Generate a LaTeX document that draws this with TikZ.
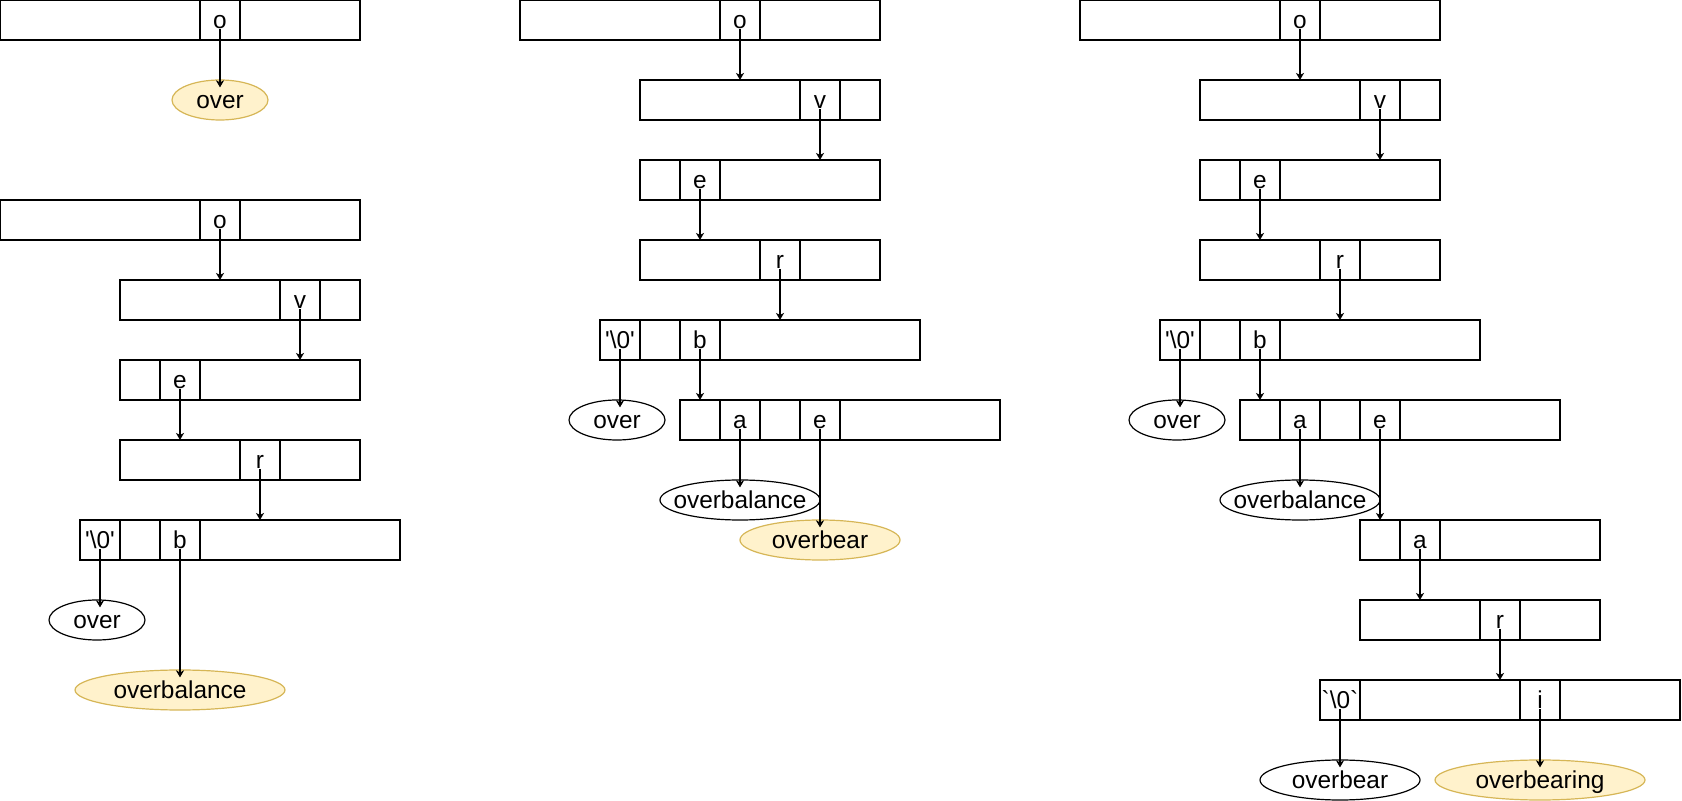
\documentclass[tikz,border=0pt]{standalone}
\usepackage{fontspec}
\setmainfont{Liberation Sans}
\usepackage{tikz}
\usetikzlibrary{positioning,arrows.meta,shapes.geometric}

\definecolor{hitfill}{HTML}{FFF2CC}
\definecolor{hitline}{HTML}{D6B656}

\newcommand{\nul}{\textquotesingle\textbackslash0\textquotesingle}
\newcommand{\nulb}{\textasciigrave\textbackslash0\textasciigrave}

% one trie node: name, left end of the row, list of width/letter
\newcommand{\trierow}[3]{%
  \coordinate (#1-0) at (#2);
  \foreach \w/\lbl [count=\i, remember=\i as \j (initially 0)] in {#3}
    \node[cell, minimum width=\w*\cw, right=0pt of #1-\j] (#1-\i) {\lbl};
}

\begin{document}
\begin{tikzpicture}[x=0.5pt, y=-0.5pt, font=\fontsize{12.2}{14}\selectfont,
    cell/.style={draw, line width=0.6pt, rectangle, minimum height=20pt,
                 inner sep=0pt, outer sep=0pt, text height=10pt, text depth=1pt},
    word/.style={draw, line width=0.6pt, ellipse, fill=white, minimum width=48pt,
                 minimum height=20pt, inner xsep=-10pt, inner ysep=0pt,
                 text height=10pt, text depth=1pt},
    hit/.style={fill=hitfill, draw=hitline},
    link/.style={line width=0.6pt, -{Stealth[length=3.5pt, width=4pt, inset=1pt]}}]
    \def\cw{20pt}
    \useasboundingbox (0,0) rectangle (1682,801);

    \trierow{p1a}{0,20}{5/,1/o,3/}
    \trierow{p1b}{0,220}{5/,1/o,3/}
    \trierow{p1c}{120,300}{4/,1/v,1/}
    \trierow{p1d}{120,380}{1/,1/e,4/}
    \trierow{p1e}{120,460}{3/,1/r,2/}
    \trierow{p1f}{80,540}{1/\nul,1/,1/b,5/}

    \trierow{p2a}{520,20}{5/,1/o,3/}
    \trierow{p2b}{640,100}{4/,1/v,1/}
    \trierow{p2c}{640,180}{1/,1/e,4/}
    \trierow{p2d}{640,260}{3/,1/r,2/}
    \trierow{p2e}{600,340}{1/\nul,1/,1/b,5/}
    \trierow{p2f}{680,420}{1/,1/a,1/,1/e,4/}

    \trierow{p3a}{1080,20}{5/,1/o,3/}
    \trierow{p3b}{1200,100}{4/,1/v,1/}
    \trierow{p3c}{1200,180}{1/,1/e,4/}
    \trierow{p3d}{1200,260}{3/,1/r,2/}
    \trierow{p3e}{1160,340}{1/\nul,1/,1/b,5/}
    \trierow{p3f}{1240,420}{1/,1/a,1/,1/e,4/}
    \trierow{p3g}{1360,540}{1/,1/a,4/}
    \trierow{p3h}{1360,620}{3/,1/r,2/}
    \trierow{p3i}{1320,700}{1/\nulb,4/,1/i,3/}

    \node[word, hit] (w1) at (220,100) {over};
    \node[word] (w2) at (97,620) {over};
    \node[word, hit, minimum width=105pt] (w3) at (180,690) {overbalance};
    \node[word] (w4) at (617,420) {over};
    \node[word, minimum width=80pt] (w5) at (740,500) {overbalance};
    \node[word, hit, minimum width=80pt] (w6) at (820,540) {overbear};
    \node[word] (w7) at (1177,420) {over};
    \node[word, minimum width=80pt] (w8) at (1300,500) {overbalance};
    \node[word, minimum width=80pt] (w9) at (1340,780) {overbear};
    \node[word, hit, minimum width=105pt] (w10) at (1540,780) {overbearing};

    \draw[link] ([yshift=-4.5pt]p1a-2.center) -- ([yshift=-4pt]p1a-2.center |- w1.north);
    \draw[link] ([yshift=-4.5pt]p1b-2.center) -- (p1b-2.center |- p1c-1.north);
    \draw[link] ([yshift=-4.5pt]p1c-2.center) -- (p1c-2.center |- p1d-3.north);
    \draw[link] ([yshift=-4.5pt]p1d-2.center) -- (p1d-2.center |- p1e-1.north);
    \draw[link] ([yshift=-4.5pt]p1e-2.center) -- (p1e-2.center |- p1f-4.north);
    \draw[link] ([yshift=-4.5pt]p1f-1.center) -- ([yshift=-4pt]p1f-1.center |- w2.north);
    \draw[link] ([yshift=-4.5pt]p1f-3.center) -- ([yshift=-4pt]p1f-3.center |- w3.north);

    \draw[link] ([yshift=-4.5pt]p2a-2.center) -- (p2a-2.center |- p2b-1.north);
    \draw[link] ([yshift=-4.5pt]p2b-2.center) -- (p2b-2.center |- p2c-3.north);
    \draw[link] ([yshift=-4.5pt]p2c-2.center) -- (p2c-2.center |- p2d-1.north);
    \draw[link] ([yshift=-4.5pt]p2d-2.center) -- (p2d-2.center |- p2e-4.north);
    \draw[link] ([yshift=-4.5pt]p2e-1.center) -- ([yshift=-4pt]p2e-1.center |- w4.north);
    \draw[link] ([yshift=-4.5pt]p2e-3.center) -- (p2e-3.center |- p2f-1.north);
    \draw[link] ([yshift=-4.5pt]p2f-2.center) -- ([yshift=-4pt]p2f-2.center |- w5.north);
    \draw[link] ([yshift=-4.5pt]p2f-4.center) -- ([yshift=-4pt]p2f-4.center |- w6.north);

    \draw[link] ([yshift=-4.5pt]p3a-2.center) -- (p3a-2.center |- p3b-1.north);
    \draw[link] ([yshift=-4.5pt]p3b-2.center) -- (p3b-2.center |- p3c-3.north);
    \draw[link] ([yshift=-4.5pt]p3c-2.center) -- (p3c-2.center |- p3d-1.north);
    \draw[link] ([yshift=-4.5pt]p3d-2.center) -- (p3d-2.center |- p3e-4.north);
    \draw[link] ([yshift=-4.5pt]p3e-1.center) -- ([yshift=-4pt]p3e-1.center |- w7.north);
    \draw[link] ([yshift=-4.5pt]p3e-3.center) -- (p3e-3.center |- p3f-1.north);
    \draw[link] ([yshift=-4.5pt]p3f-2.center) -- ([yshift=-4pt]p3f-2.center |- w8.north);
    \draw[link] ([yshift=-4.5pt]p3f-4.center) -- (p3f-4.center |- p3g-1.north);
    \draw[link] ([yshift=-4.5pt]p3g-2.center) -- (p3g-2.center |- p3h-1.north);
    \draw[link] ([yshift=-4.5pt]p3h-2.center) -- (p3h-2.center |- p3i-2.north);
    \draw[link] ([yshift=-4.5pt]p3i-1.center) -- ([yshift=-4pt]p3i-1.center |- w9.north);
    \draw[link] ([yshift=-4.5pt]p3i-3.center) -- ([yshift=-4pt]p3i-3.center |- w10.north);
\end{tikzpicture}
\end{document}
